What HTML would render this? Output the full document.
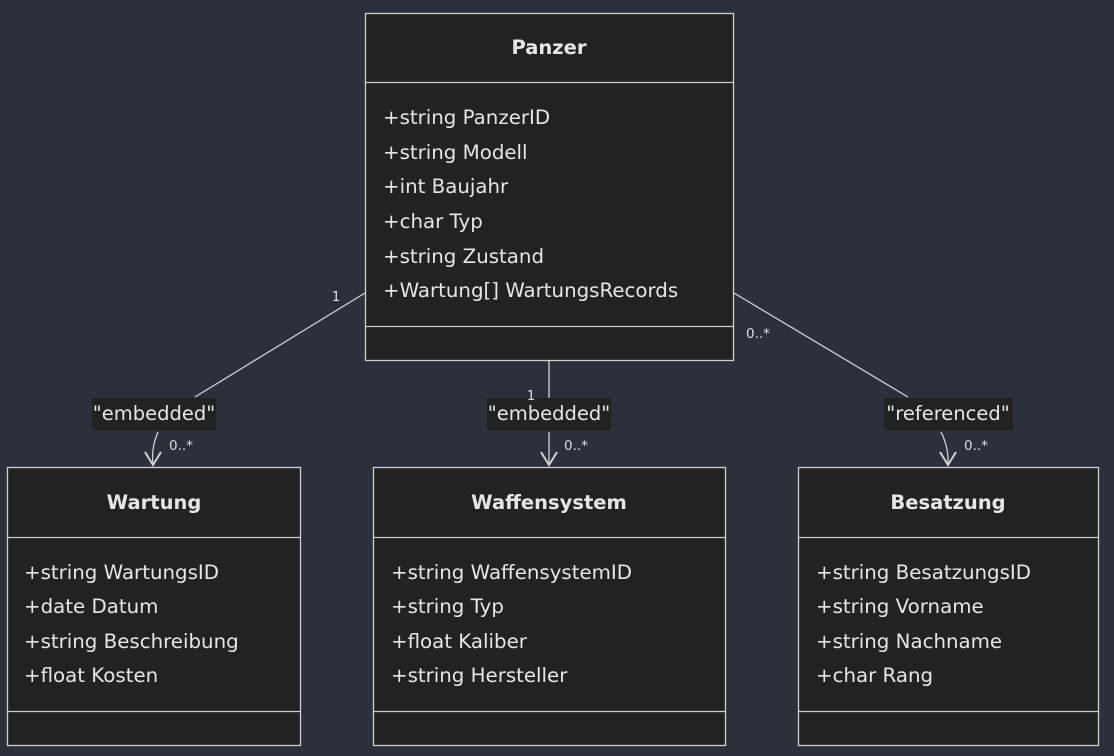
<!DOCTYPE html>
<html><head><style>
html,body{margin:0;padding:0;background:#2b303b;}
svg{display:block;}
text{font-family:"DejaVu Sans","Liberation Sans",sans-serif;fill:#e6e6e6;}
.t{font-weight:bold;font-size:19.5px;}
.a{font-size:19.8px;}
.s{font-size:13.5px;fill:#ddd;}
.lb{font-size:19.5px;}
</style></head><body>
<svg width="1114" height="756" viewBox="0 0 1114 756" xmlns="http://www.w3.org/2000/svg">
<rect width="1114" height="756" fill="#2b303b"/>
<g stroke="#d0d0d0" stroke-width="1.3" fill="none">
<path d="M365,293 L195,397"/>
<path d="M158,432 Q151,448 153,465"/>
<path d="M549,360 L549,400"/>
<path d="M549,432 L549,465"/>
<path d="M734,293 L908,397"/>
<path d="M941,432 Q949,448 948,465"/>
<path d="M145,452 L153,465 L161,452" stroke-width="2"/>
<path d="M541,452 L549,465 L557,452" stroke-width="2"/>
<path d="M940,452 L948,465 L956,452" stroke-width="2"/>
</g>
<g fill="#212222">
<rect x="92" y="398" width="124" height="32"/>
<rect x="487" y="398" width="124" height="32"/>
<rect x="884" y="398" width="129" height="32"/>
</g>
<text class="lb" x="154" y="420" text-anchor="middle">"embedded"</text>
<text class="lb" x="549" y="420" text-anchor="middle">"embedded"</text>
<text class="lb" x="948" y="420" text-anchor="middle">"referenced"</text>
<text class="s" x="336" y="301" text-anchor="middle">1</text>
<text class="s" x="531" y="400" text-anchor="middle">1</text>
<text class="s" x="758" y="338" text-anchor="middle">0..*</text>
<text class="s" x="181" y="450" text-anchor="middle">0..*</text>
<text class="s" x="576" y="450" text-anchor="middle">0..*</text>
<text class="s" x="976" y="450" text-anchor="middle">0..*</text>

<g stroke="#cfcfcf" stroke-width="1.3" fill="#212222">
<rect x="365.5" y="13.5" width="368" height="347"/>
<line x1="365" y1="82.5" x2="734" y2="82.5"/>
<line x1="365" y1="326.5" x2="734" y2="326.5"/>
<rect x="7.5" y="467.5" width="293" height="278"/>
<line x1="7" y1="537.5" x2="301" y2="537.5"/>
<line x1="7" y1="711.5" x2="301" y2="711.5"/>
<rect x="373.5" y="467.5" width="352" height="278"/>
<line x1="373" y1="537.5" x2="726" y2="537.5"/>
<line x1="373" y1="711.5" x2="726" y2="711.5"/>
<rect x="798.5" y="467.5" width="300" height="278"/>
<line x1="798" y1="537.5" x2="1099" y2="537.5"/>
<line x1="798" y1="711.5" x2="1099" y2="711.5"/>
</g>
<text class="t" x="549" y="54" text-anchor="middle">Panzer</text>
<text class="a" x="383" y="124">+string PanzerID</text>
<text class="a" x="383" y="159">+string Modell</text>
<text class="a" x="383" y="193">+int Baujahr</text>
<text class="a" x="383" y="228">+char Typ</text>
<text class="a" x="383" y="263">+string Zustand</text>
<text class="a" x="383" y="297">+Wartung[] WartungsRecords</text>
<text class="t" x="154" y="509" text-anchor="middle">Wartung</text>
<text class="a" x="24" y="579">+string WartungsID</text>
<text class="a" x="24" y="613">+date Datum</text>
<text class="a" x="24" y="648">+string Beschreibung</text>
<text class="a" x="24" y="682">+float Kosten</text>
<text class="t" x="549" y="509" text-anchor="middle">Waffensystem</text>
<text class="a" x="391" y="579">+string WaffensystemID</text>
<text class="a" x="391" y="613">+string Typ</text>
<text class="a" x="391" y="648">+float Kaliber</text>
<text class="a" x="391" y="682">+string Hersteller</text>
<text class="t" x="948" y="509" text-anchor="middle">Besatzung</text>
<text class="a" x="816" y="579">+string BesatzungsID</text>
<text class="a" x="816" y="613">+string Vorname</text>
<text class="a" x="816" y="648">+string Nachname</text>
<text class="a" x="816" y="682">+char Rang</text>
</svg>
</body></html>
